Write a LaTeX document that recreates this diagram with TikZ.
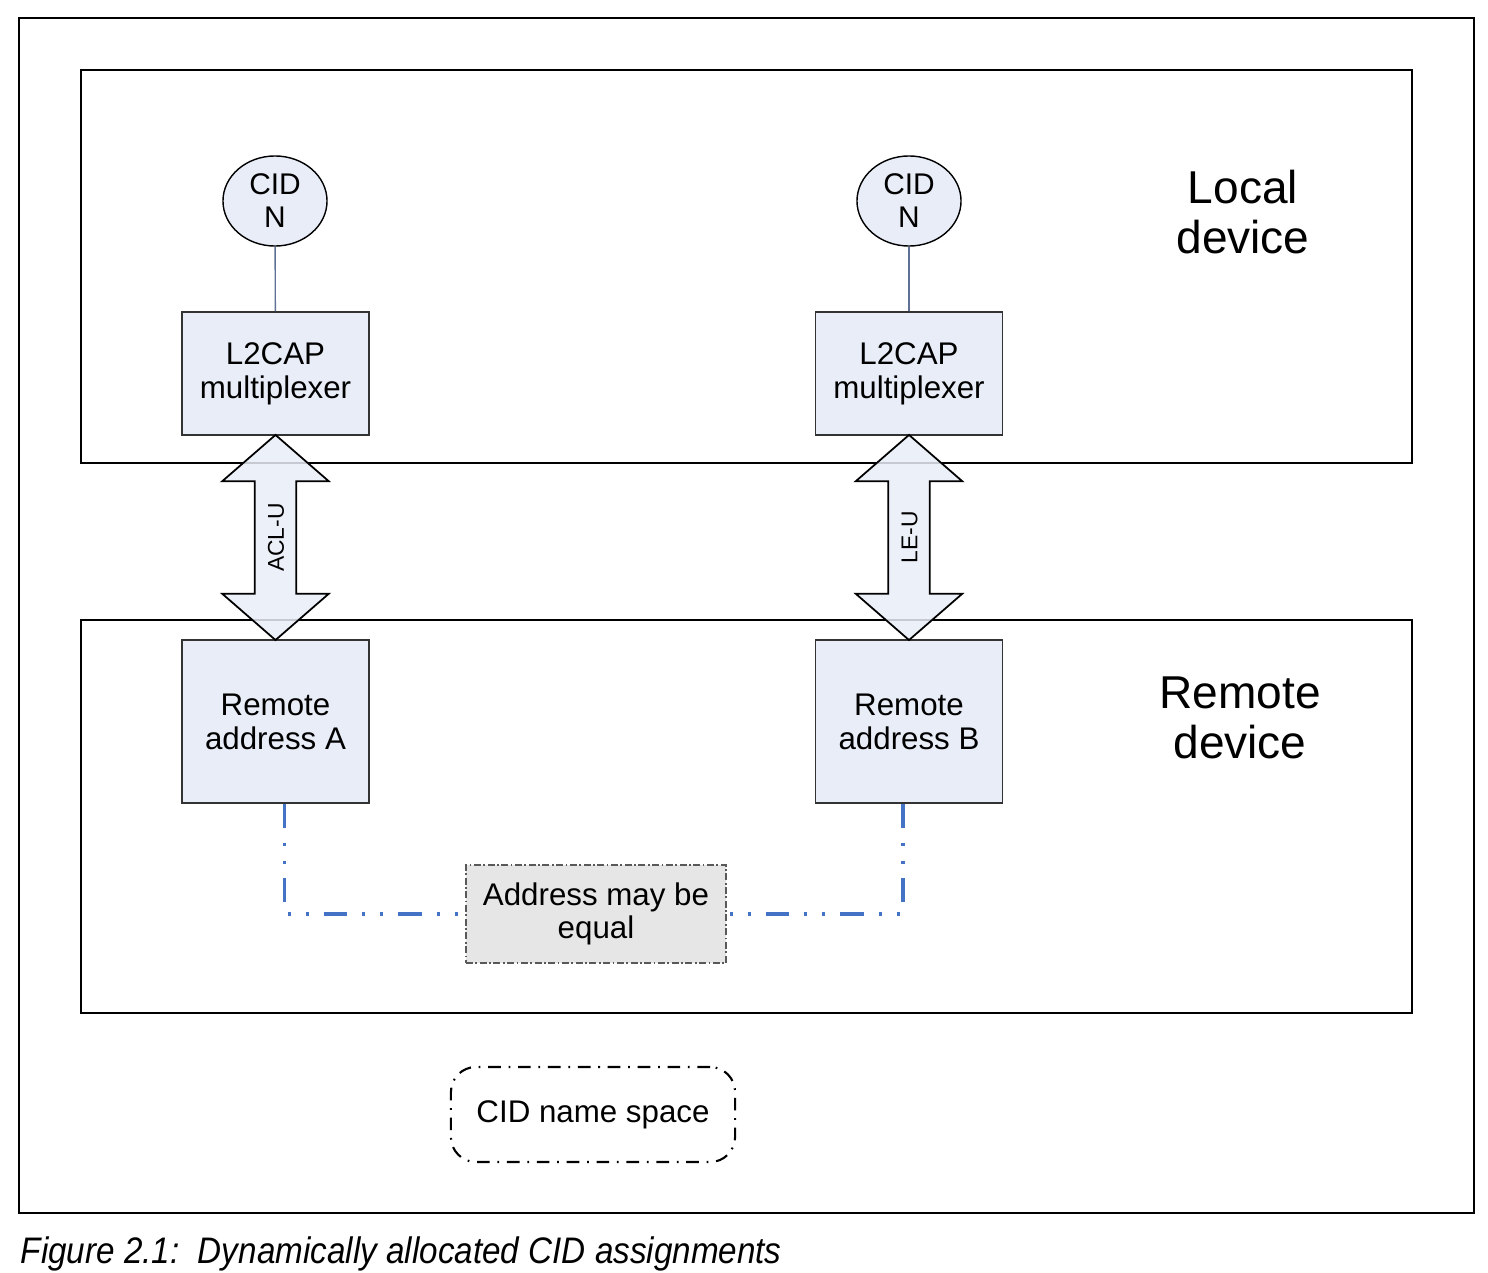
\documentclass[tikz,border=0pt]{standalone}
\usepackage{fontspec}
\setmainfont{Liberation Sans}
\newfontfamily\capfont[FakeStretch=0.9]{Liberation Sans}
\usetikzlibrary{shapes.geometric,shapes.arrows,calc}
\definecolor{boxfill}{RGB}{233,237,247}
\definecolor{linkblue}{RGB}{68,114,196}
\definecolor{eqfill}{RGB}{230,230,230}
\definecolor{stem}{RGB}{95,112,150}

\begin{document}
\begin{tikzpicture}[x=0.01cm, y=-0.01cm,
  every node/.style={font=\fontsize{8.9}{9.6}\selectfont},
  box/.style={draw=black!80, fill=boxfill, line width=0.5pt, minimum width=1.87cm, inner sep=0, align=center},
  cid/.style={ellipse, draw, fill=boxfill, minimum width=1.04cm, minimum height=0.9cm, inner sep=0, align=center, font=\fontsize{8.5}{9.4}\selectfont},
  arw/.style={double arrow, draw, line width=0.5pt, fill=boxfill, fill opacity=0.85, text opacity=1, rotate=90, minimum height=2.05cm, double arrow head extend=0.325cm, double arrow tip angle=98, inner xsep=0, inner ysep=3.3pt, text height=4.7pt, text depth=0pt, font=\fontsize{6.5}{7}\selectfont},
  dev/.style={align=center, font=\fontsize{13.1}{14.2}\selectfont},
  eqbox/.style={draw=black!65, fill=eqfill, line width=0.5pt, dash pattern=on 2pt off 0.7pt on 0.5pt off 0.7pt, minimum width=2.6cm, minimum height=0.98cm, inner sep=0, align=center},
  nsbox/.style={draw, line width=0.6pt, rounded corners=0.25cm, dash pattern=on 3.6pt off 2.2pt on 0.5pt off 2.2pt, minimum width=2.84cm, minimum height=0.95cm, inner sep=0},
  link/.style={draw=linkblue, line width=0.9pt, dash pattern=on 6.8pt off 4.2pt on 0.9pt off 4.2pt on 0.9pt off 4.2pt}]
  \useasboundingbox (0,0) rectangle (1488,1273);

  % frames
  \draw[line width=0.8pt] (19,18) rectangle (1474,1213);
  \draw[line width=0.4pt] (81,70) rectangle (1412,463);
  \draw[line width=0.4pt] (81,620) rectangle (1412,1013);

  \node[dev] (loc) at (1243,212) {Local\\device};
  \node[dev] (rem) at (1240,718) {Remote\\device};

  % channel ends
  \node[cid] (cidA) at (275,201) {CID\\N};
  \node[cid] (cidB) at (909,201) {CID\\N};
  \node[box, minimum height=1.23cm] (muxA) at (275.5,373.5) {L2CAP\\multiplexer};
  \node[box, minimum height=1.23cm] (muxB) at (909,373.5) {L2CAP\\multiplexer};
  \draw[stem, line width=0.4pt] (cidA) -- (muxA);
  \draw[stem, line width=0.4pt] (cidB) -- (muxB);

  \node[box, minimum height=1.63cm] (remA) at (275.5,721.5) {Remote\\address A};
  \node[box, minimum height=1.63cm] (remB) at (909,721.5) {Remote\\address B};

  % links
  \node[arw] (acl) at ($(muxA.south)!.5!(remA.north)$) {ACL-U};
  \node[arw] (le) at ($(muxB.south)!.5!(remB.north)$) {LE-U};

  \node[eqbox] (eq) at (596,914) {Address may be\\equal};
  \draw[link] ([xshift=0.09cm]remA.south) |- (eq.west);
  \draw[link] ([xshift=-0.06cm]remB.south) |- (eq.east);

  \node[nsbox] (ns) at (593,1114.5) {CID name space};

  \node[anchor=base west, inner sep=0, font=\capfont\itshape\fontsize{10.5}{12}\selectfont] (cap) at (20,1263) {Figure 2.1:\ \ Dynamically allocated CID assignments};
\end{tikzpicture}
\end{document}
